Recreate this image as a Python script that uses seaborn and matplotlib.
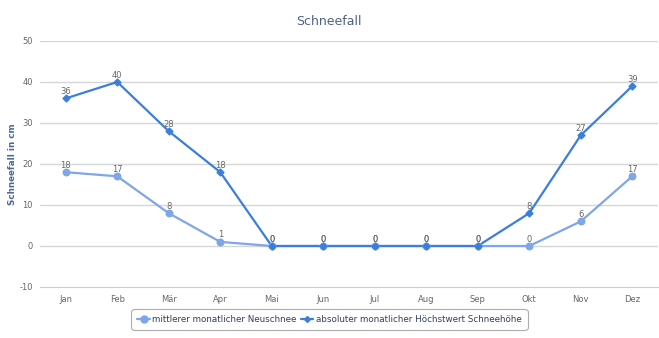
import numpy as np
import pandas as pd
import matplotlib
matplotlib.use("Agg")
import matplotlib.pyplot as plt
import seaborn as sns
from matplotlib.lines import Line2D

months = ["Jan", "Feb", "Mär", "Apr", "Mai", "Jun", "Jul", "Aug", "Sep", "Okt", "Nov", "Dez"]
neuschnee = [18, 17, 8, 1, 0, 0, 0, 0, 0, 0, 6, 17]
hoechstwert = [36, 40, 28, 18, 0, 0, 0, 0, 0, 8, 27, 39]
series_names = ["mittlerer monatlicher Neuschnee", "absoluter monatlicher Höchstwert Schneehöhe"]
colors = ["#7ea6e8", "#3b7fd9"]

df = pd.DataFrame({
    "pos": list(range(12)) * 2,
    "Wert": neuschnee + hoechstwert,
    "Reihe": [series_names[0]] * 12 + [series_names[1]] * 12,
})

sns.set_style("white")
plt.rcParams['font.family'] = ['DejaVu Sans Condensed', 'DejaVu Sans']
plt.rcParams['axes.unicode_minus'] = False

fig = plt.figure(figsize=(6.59, 3.38), dpi=100)
ax = fig.add_axes([0.0607, 0.1509, 0.9378, 0.7278])

# gridlines
for v in range(0, 51, 10):
    ax.axhline(v, color="#d6d6d6", lw=1, zorder=0)

sns.lineplot(data=df, x="pos", y="Wert", hue="Reihe", palette=colors,
             hue_order=series_names, lw=1.6, ax=ax, legend=False, zorder=3)
ax.scatter(range(12), neuschnee, s=22, color=colors[0], zorder=4)
ax.scatter(range(12), hoechstwert, s=12, color=colors[1], marker="D", zorder=5)

# data labels
for i in range(12):
    ax.text(i, neuschnee[i] + 0.6, str(neuschnee[i]), ha="center", va="bottom",
            fontsize=6, color="#666666", zorder=6)
    ax.text(i, hoechstwert[i] + 0.6, str(hoechstwert[i]), ha="center", va="bottom",
            fontsize=6, color="#666666", zorder=6)

ax.set_xlim(-0.5, 11.5)
ax.set_ylim(-10, 50)
ax.set_yticks(range(-10, 51, 10))
ax.set_xticks(range(12))
ax.set_xticklabels(months)
ax.set_xticks(np.arange(-0.5, 12, 1), minor=True)
ax.tick_params(axis="x", which="major", length=0, labelsize=6, colors="#666666", pad=6)
ax.tick_params(axis="x", which="minor", length=4, color="#c0d0e0", direction="out")
ax.tick_params(axis="y", length=0, labelsize=6, colors="#666666", pad=5)
for s in ["top", "right", "left"]:
    ax.spines[s].set_visible(False)
ax.spines["bottom"].set_color("#c0d0e0")
ax.set_xlabel("")
ax.set_ylabel("Schneefall in cm", fontsize=6.3, fontweight="bold", color="#4a6a96")
ax.yaxis.set_label_coords(-0.037, 0.5)

fig.text(0.499, 0.935, "Schneefall", ha="center", va="center", fontsize=9, color="#4d6185")

# legend
handles = [
    Line2D([], [], color=colors[0], lw=1.6, marker="o", markersize=5),
    Line2D([], [], color=colors[1], lw=1.6, marker="D", markersize=3),
]
leg = fig.legend(handles, series_names, loc="center", bbox_to_anchor=(0.5, 0.055),
                 ncol=2, fontsize=6.3, frameon=True, handlelength=1.4,
                 handletextpad=0.3, columnspacing=0.5, borderpad=0.5)
leg.get_frame().set_edgecolor("#999999")
leg.get_frame().set_linewidth(0.8)
leg.get_frame().set_boxstyle("round,pad=0.2,rounding_size=0.4")
for t in leg.get_texts():
    t.set_color("#333f5a")

fig.savefig("out.png", dpi=100)
